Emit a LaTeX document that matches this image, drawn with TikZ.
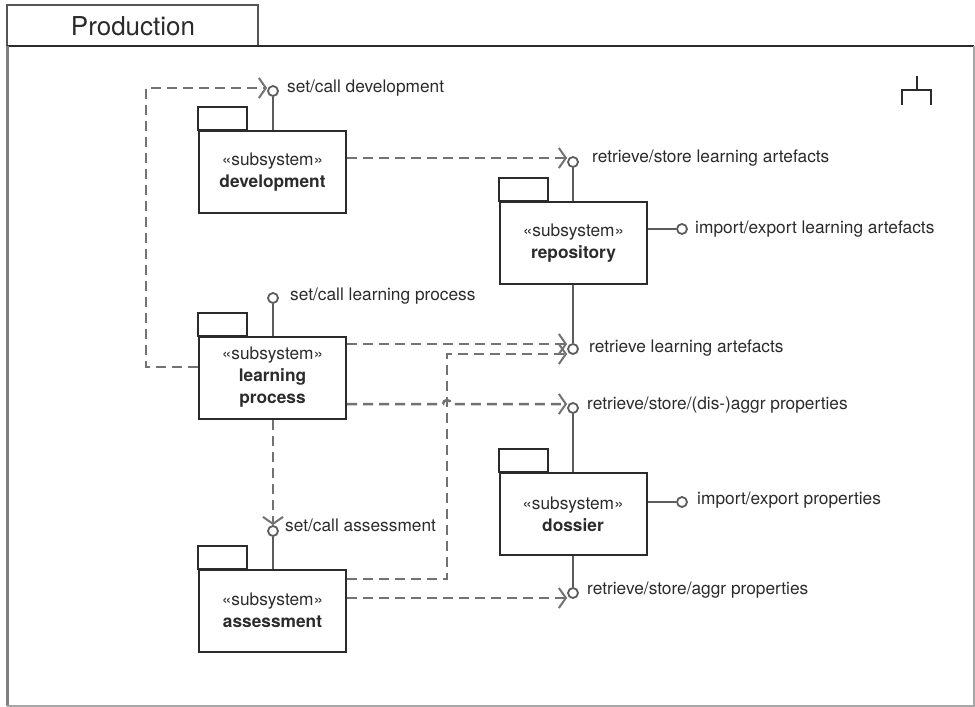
\documentclass[tikz,border=0pt]{standalone}
\usepackage{fontspec}
\setmainfont{TeX Gyre Heros}
\usetikzlibrary{arrows.meta,calc}
\definecolor{ink}{HTML}{2B2B2B}
\definecolor{dep}{HTML}{727272}
\definecolor{stem}{HTML}{5C5C5C}
\begin{document}
\begin{tikzpicture}[x=1pt,y=-1pt,
  lbl/.style={anchor=west,inner sep=0pt,text=ink,font=\fontsize{17.3}{21}\selectfont},
  pkg/.style={draw=ink,line width=2pt,minimum width=147pt,minimum height=82pt,inner sep=0pt,
    align=center,text=ink,font=\fontsize{17.3}{22}\selectfont},
  pkgtab/.style={draw=ink,line width=2pt},
  port/.style={circle,draw=stem,line width=1.8pt,fill=white,minimum size=10pt,inner sep=0pt},
  stemline/.style={draw=stem,line width=2.5pt},
  depline/.style={draw=dep,line width=2.5pt,dash pattern=on 10pt off 6pt,
    -{Straight Barb[length=7pt,width=20pt,line width=2pt]}},
  ]
\useasboundingbox (0,0) rectangle (975,707);

% frame with its name tab
\draw[ink!80,line width=1.8pt] (7,46) -- (7,5) -- (258,5) -- (258,46);
\draw[ink,line width=2pt] (7,46) -- (974,46);
\draw[gray,line width=3pt] (7,46) -- (7,706);
\draw[black!35,line width=1.5pt] (974,46) -- (974,706) -- (7,706);
\node[text=ink,font=\fontsize{26}{30}\selectfont,inner sep=0pt] (title) at (133,26) {Production};

% fork symbol
\draw[ink,line width=2pt] (917,76) -- (917,90);
\draw[ink,line width=2pt] (902,105) -- (902,90) -- (931,90) -- (931,105);

% subsystems
\node[pkg] (dev) at (272.5,172) {«subsystem»\\\textbf{development}};
\node[pkg] (rep) at (573.5,243) {«subsystem»\\\textbf{repository}};
\node[pkg] (lp)  at (272.5,377.5) {«subsystem»\\\textbf{learning}\\\textbf{process}};
\node[pkg] (dos) at (573,514) {«subsystem»\\\textbf{dossier}};
\node[pkg] (as)  at (272.5,610.5) {«subsystem»\\\textbf{assessment}};
\foreach \p in {dev,rep,lp,dos,as}
  \draw[pkgtab] (\p.north west) rectangle ++(49,-23);

% provided interfaces
\node[port] (pDev)     at (273,91) {};
\node[port] (pRepTop)  at (573,162) {};
\node[port] (pRepRight) at (682,229) {};
\node[port] (pRepBot)  at (573,349) {};
\node[port] (pLp)      at (273,298) {};
\node[port] (pDosTop)  at (573,408) {};
\node[port] (pDosRight) at (682,502) {};
\node[port] (pDosBot)  at (573,593) {};
\node[port] (pAs)      at (273,531) {};

\draw[stemline] (pDev |- dev.north) -- (pDev);
\draw[stemline] (pRepTop |- rep.north) -- (pRepTop);
\draw[stemline] (rep.east |- pRepRight) -- (pRepRight);
\draw[stemline] (pRepBot |- rep.south) -- (pRepBot);
\draw[stemline] (pLp |- lp.north) -- (pLp);
\draw[stemline] (pDosTop |- dos.north) -- (pDosTop);
\draw[stemline] (dos.east |- pDosRight) -- (pDosRight);
\draw[stemline] (pDosBot |- dos.south) -- (pDosBot);
\draw[stemline] (pAs |- as.north) -- (pAs);

% interface names
\node[lbl] (tDev)      at (287,88)  {set/call development};
\node[lbl] (tRepTop)   at (592,158) {retrieve/store learning artefacts};
\node[lbl] (tRepRight) at (695,229) {import/export learning artefacts};
\node[lbl] (tRepBot)   at (589,348) {retrieve learning artefacts};
\node[lbl] (tLp)       at (290,296) {set/call learning process};
\node[lbl] (tDosTop)   at (587,405) {retrieve/store/(dis-)aggr properties};
\node[lbl] (tDosRight) at (697,500) {import/export properties};
\node[lbl] (tDosBot)   at (587,590) {retrieve/store/aggr properties};
\node[lbl] (tAs)       at (285,525) {set/call assessment};

% usage dependencies
\draw[depline] (lp.west |- 0,367) -- (146,367) -- (146,88) -- (pDev.west |- 0,88);
\draw[depline] (dev.east |- 0,158) -- (pRepTop.west |- 0,158);
\draw[depline] (lp.east |- 0,344) -- (pRepBot.west |- 0,344);
\draw[depline] (as.east |- 0,579) -- (447,579) -- (447,354) -- (pRepBot.west |- 0,354);
\draw[depline] (lp.east |- 0,404) -- (443,404) arc[start angle=180,end angle=360,radius=4]
  -- (pDosTop.west |- 0,404);
\draw[depline] (as.east |- 0,598) -- (pDosBot.west |- 0,598);
\draw[depline] (pAs |- lp.south) -- (pAs.north);
\end{tikzpicture}
\end{document}
